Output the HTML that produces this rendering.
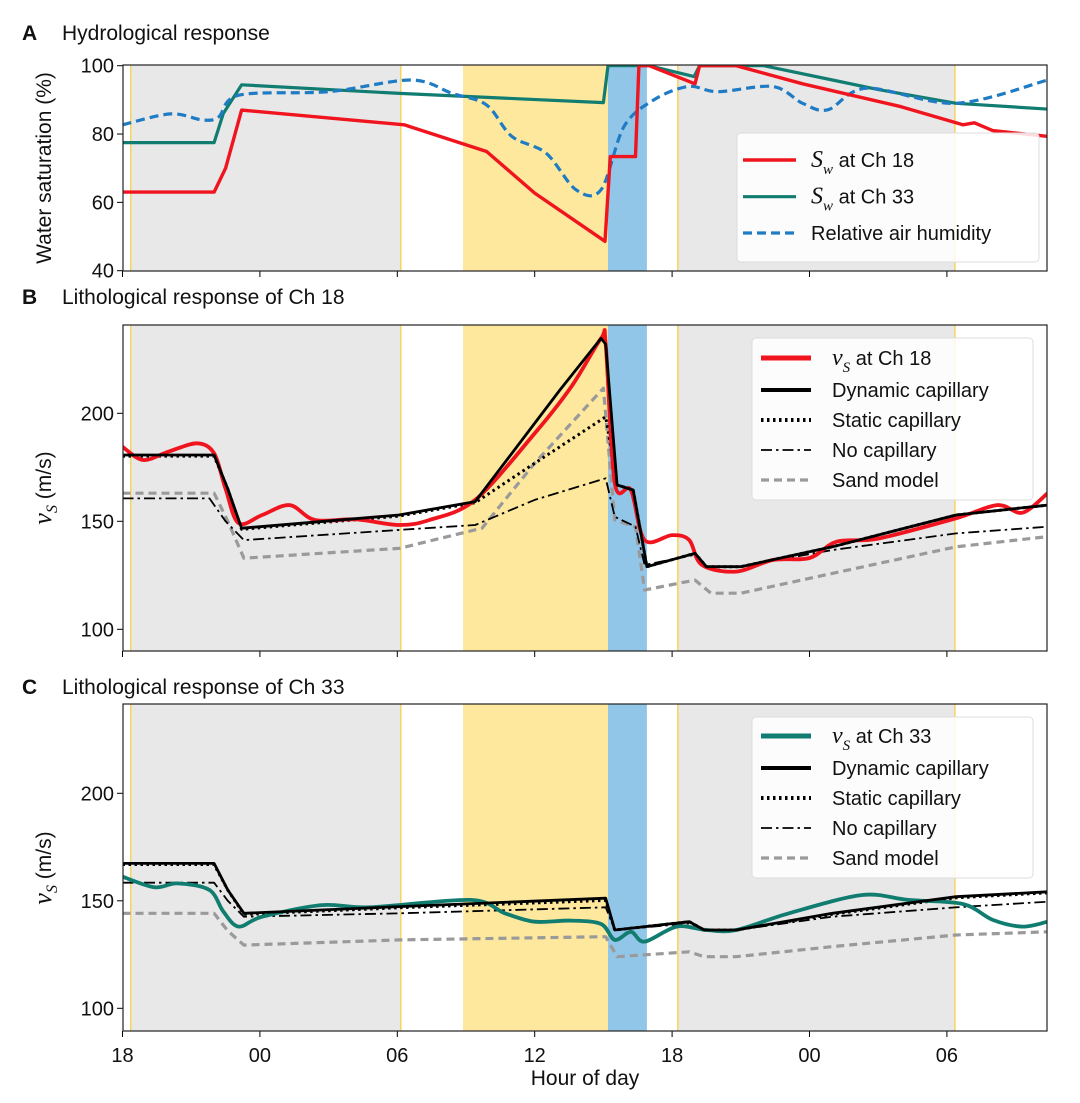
<!DOCTYPE html>
<html><head><meta charset="utf-8"><style>
body{margin:0;background:#fff;width:1080px;height:1103px;overflow:hidden}
svg{display:block;font-family:"Liberation Sans",sans-serif}
</style></head><body>
<svg id="fig" width="1080" height="1103" viewBox="0 0 1080 1103"></svg>
<script>
// ---- data (hours since 18:00, values) ----
const xTickHours=[0,6,12,18,24,30,36];
const xTickLabels=["18","00","06","12","18","00","06"];
const nightSpans=[[0.36,12.15],[24.25,36.35]];
const sunSpan=[14.87,21.2];
const rainSpan=[21.2,22.9];
const markerHours=[0.36,12.15,24.25,36.35];
const ticksA=[40,60,80,100];
const ticksBC=[100,150,200];

const sw18=[[0,63],[4.0,63],[4.5,70],[5.2,87],[12.3,82.7],[15.9,74.9],[18,62.7],[21.07,48.6],[21.3,73.4],[22.4,73.4],[22.55,100],[23,100],[25.0,94.7],[25.2,100],[26.8,100],[29.7,94.7],[34,88],[36.7,82.7],[37.2,83.3],[38,81],[40.4,79.3]];
const sw33=[[0,77.5],[4.0,77.5],[4.4,86],[5.2,94.4],[12.1,91.9],[21.0,89.2],[21.2,100],[23,100],[24.96,96.8],[25.2,100],[28,100],[31,95.8],[33,93],[36.4,89],[40.4,87.3]];
const humidity=[[0,82.7],[2.1,85.9],[3.5,84.1],[4.2,85],[5.1,91.4],[9,92.4],[12.6,95.8],[14.4,91.9],[15.9,88.5],[17,79.3],[18.5,74.4],[19.8,63.7],[20.9,63.7],[21.9,82.2],[23.2,90],[24.7,93.9],[26,92.4],[28.4,93.9],[29.7,89],[30.8,87.1],[32.5,93.4],[36.4,89],[40.4,95.8]];

const vs18=[[0,184.5],[0.9,178.4],[2,182.2],[3.25,186.1],[4,181.5],[4.5,165],[5.07,149.1],[6.1,152.9],[7.3,157.5],[8.4,150.6],[10.2,150.9],[12.07,148.3],[13.4,150.6],[15.4,159.9],[18,190.7],[19.6,212.3],[20.9,234.7],[21.1,232],[21.5,167.6],[22.2,164.5],[22.8,141.3],[24,143.6],[24.75,141.3],[25.3,129.8],[26.8,126.7],[28.4,132.1],[30,133],[31.2,140.6],[33,142],[36.4,151.4],[38.2,157.5],[39.3,154],[40.4,163]];
const dyn18=[[0,180.7],[4,180.7],[4.6,165],[5.2,146.8],[12.07,152.9],[15.4,159.1],[19.1,210.8],[20.9,234.7],[21.1,232],[21.6,166.8],[22.3,164.5],[22.9,129],[25,135.2],[25.5,129],[27,129],[31,138.2],[36.4,152.9],[40.4,157.5]];
const stat18=[[0,180.2],[4,180.2],[4.6,165],[5.2,146.3],[12.07,152.4],[15.4,158.6],[18,176.9],[21.1,198.4],[21.6,166.8],[22.3,164.5],[22.9,129],[25,135.2],[25.5,129],[27,129],[31,138.2],[36.4,152.9],[40.4,157.5]];
const nocap18=[[0,160.6],[3.8,160.6],[4.5,150],[5.3,141.3],[12.1,146],[15.4,148.3],[18,159.9],[21.1,169.9],[21.5,152.1],[22.4,147.5],[22.8,129.8],[25,134.5],[25.5,129],[27,129],[31,136.7],[36.4,144.4],[40.4,147.5]];
const sand18=[[0,163],[4,163],[4.6,150],[5.3,132.9],[12.1,137.5],[15.7,146.8],[18,176.9],[21,211.6],[21.5,150.6],[22.4,147.5],[22.8,118.2],[25,122.8],[25.7,116.7],[27,116.7],[31,125.9],[36.4,138.2],[40.4,142.9]];

const vs33=[[0,161.2],[1.4,156.3],[2.4,158.1],[3.8,155],[4.4,145],[5.07,138],[6.1,142.6],[8.7,148],[10.8,147],[15.2,150.4],[16.7,144.2],[18,140.3],[19.6,140.8],[20.9,139.2],[21.5,131.8],[22.2,135.6],[22.8,131],[24.2,138],[25.5,136.4],[26.8,136.4],[29.1,144.2],[32.3,152.7],[34.3,150.4],[36.7,148.5],[38,141.1],[39.3,138],[40.4,140.3]];
const dyn33=[[0,167.4],[4,167.4],[4.6,155],[5.3,144.2],[12.1,147.3],[21.1,151.2],[21.5,136.4],[24.75,140.3],[25.4,136.4],[26.8,136.4],[31,144.2],[36.4,151.9],[40.4,154.2]];
const stat33=[[0,166.9],[4,166.9],[4.6,155],[5.3,143.7],[12.1,146.8],[21.1,150.2],[21.5,136.4],[24.75,140.3],[25.4,136.4],[26.8,136.4],[31,143.7],[36.4,151.4],[40.4,153.7]];
const nocap33=[[0,158.4],[4,158.4],[4.6,150],[5.3,142.6],[12.1,144.2],[21.1,147],[21.5,136.4],[24.75,139.5],[25.4,136.4],[26.8,136.4],[31,142.6],[36.4,147],[40.4,149.6]];
const sand33=[[0,144.2],[4,144.2],[4.6,136],[5.3,129.4],[12.1,131.8],[21.1,133.3],[21.6,124],[24.75,126.3],[25.4,124],[26.8,124],[31,128.7],[36.4,134.1],[40.4,135.6]];

// ---- layout ----
const NS="http://www.w3.org/2000/svg";
const svg=document.getElementById('fig');
const X0=122.5,PX_H=22.9,LEFT=123,RIGHT=1047;
function xs(t){return X0+t*PX_H;}
function mk(tag,attrs,parent){const e=document.createElementNS(NS,tag);for(const k in attrs)e.setAttribute(k,attrs[k]);(parent||svg).appendChild(e);return e;}
const panels=[
 {id:'a',top:65,bot:271,v1:100,y1:65.7,v0:40,y0:270.7,ticks:ticksA},
 {id:'b',top:325,bot:651,v1:200,y1:413.3,v0:100,y0:629.3,ticks:ticksBC},
 {id:'c',top:704,bot:1031,v1:200,y1:793.3,v0:100,y0:1008.3,ticks:ticksBC}
];
function ysf(p){return v=>p.y0+(v-p.v0)*(p.y1-p.y0)/(p.v1-p.v0);}

function drawPanel(p){
  const g=mk('g',{});
  
  
  const cp=mk('clipPath',{id:'clip-'+p.id},g);
  mk('rect',{x:LEFT,y:p.top,width:RIGHT-LEFT,height:p.bot-p.top},cp);
  nightSpans.forEach((s,i)=>{const r=mk('rect',{x:xs(s[0]),y:p.top,width:xs(s[1])-xs(s[0]),height:p.bot-p.top,fill:'#e8e8e8'},g);
    });
  const sy=mk('rect',{x:xs(sunSpan[0]),y:p.top,width:xs(sunSpan[1])-xs(sunSpan[0]),height:p.bot-p.top,fill:'#fde89e'},g);
  
  const rb=mk('rect',{x:xs(rainSpan[0]),y:p.top,width:xs(rainSpan[1])-xs(rainSpan[0]),height:p.bot-p.top,fill:'#92c6e8'},g);
  
  markerHours.forEach(h=>{const l=mk('line',{x1:xs(h),x2:xs(h),y1:p.top,y2:p.bot,stroke:'#f6d460','stroke-width':1.5},g);
    });
  const sy2=ysf(p);
  p.ticks.forEach(v=>{const y=sy2(v);mk('line',{x1:LEFT-6,x2:LEFT,y1:y,y2:y,stroke:'#000','stroke-width':1},g);
    const t=mk('text',{x:LEFT-9,y:y+7,'text-anchor':'end','font-size':20,fill:'#111'},g);t.textContent=v;
    });
  xTickHours.forEach((h,i)=>{mk('line',{x1:xs(h),x2:xs(h),y1:p.bot,y2:p.bot+6,stroke:'#000','stroke-width':1},g);
    if(p.id==='c'){const t=mk('text',{x:xs(h),y:p.bot+31,'text-anchor':'middle','font-size':20,fill:'#111'},g);t.textContent=xTickLabels[i];
      }});
  p.g=g;p.sy=sy2;
  return g;
}
function pathD(pts,smooth){
  if(!smooth) return pts.map((q,i)=>(i?'L':'M')+q[0].toFixed(1)+','+q[1].toFixed(1)).join('');
  let d='M'+pts[0][0].toFixed(1)+','+pts[0][1].toFixed(1);
  for(let i=0;i<pts.length-1;i++){
    const p0=pts[i-1]||pts[i],p1=pts[i],p2=pts[i+1],p3=pts[i+2]||p2;
    const k=0.16;
    const c1=[p1[0]+(p2[0]-p0[0])*k,p1[1]+(p2[1]-p0[1])*k];
    const c2=[p2[0]-(p3[0]-p1[0])*k,p2[1]-(p3[1]-p1[1])*k];
    d+='C'+c1[0].toFixed(1)+','+c1[1].toFixed(1)+' '+c2[0].toFixed(1)+','+c2[1].toFixed(1)+' '+p2[0].toFixed(1)+','+p2[1].toFixed(1);
  }
  return d;
}
function series(p,data,style,name,smooth){
  const sy=p.sy;
  const pts=data.map(pt=>[xs(pt[0]),sy(pt[1])]);
  const a=Object.assign({d:pathD(pts,smooth),fill:'none','stroke-linejoin':'round','clip-path':'url(#clip-'+p.id+')'},style);
  const e=mk('path',a,p.g);
  
  
}
function frame(p){const r=mk('rect',{x:LEFT,y:p.top,width:RIGHT-LEFT,height:p.bot-p.top,fill:'none',stroke:'#222','stroke-width':1.2},p.g);
  }

const RED={stroke:'#f0141e','stroke-width':3.4};
const TEAL={stroke:'#117c70','stroke-width':3.2};
const BLUE={stroke:'#1f7cc4','stroke-width':3.2,'stroke-dasharray':'9,5'};
const DYN={stroke:'#000','stroke-width':2.8};
const STAT={stroke:'#000','stroke-width':3,'stroke-dasharray':'2.5,3.5'};
const NOC={stroke:'#000','stroke-width':1.8,'stroke-dasharray':'11,4,2.5,4'};
const SAND={stroke:'#9a9a9a','stroke-width':3.2,'stroke-dasharray':'8,5'};

const [pa,pb,pc]=panels;
drawPanel(pa);
series(pa,sw33,TEAL,'sw-ch33-line');
series(pa,humidity,BLUE,'humidity-line',true);
series(pa,sw18,RED,'sw-ch18-line');
frame(pa);
drawPanel(pb);
series(pb,sand18,SAND,'sand-model-line');
series(pb,nocap18,NOC,'no-capillary-line');
series(pb,stat18,STAT,'static-capillary-line');
series(pb,vs18,Object.assign({},RED,{'stroke-width':3.8}),'vs-ch18-line',true);
series(pb,dyn18,DYN,'dynamic-capillary-line');
frame(pb);
drawPanel(pc);
series(pc,sand33,SAND,'sand-model-line');
series(pc,nocap33,NOC,'no-capillary-line');
series(pc,stat33,STAT,'static-capillary-line');
series(pc,vs33,Object.assign({},TEAL,{'stroke-width':3.8}),'vs-ch33-line',true);
series(pc,dyn33,DYN,'dynamic-capillary-line');
frame(pc);

// legends
function legend(x,y,w,h,rows,lx1,lx2,tx,name){
  const g=mk('g',{});
  
  
  mk('rect',{x:x,y:y,width:w,height:h,rx:4,fill:'#fff','fill-opacity':0.85,stroke:'#ddd'},g);
  rows.forEach(r=>{
    const l=mk('line',Object.assign({x1:lx1,x2:lx2,y1:r.y,y2:r.y},r.style),g);
    
    const t=mk('text',{x:tx,y:r.y+7,'font-size':20,fill:'#111'},g);
    
    t.innerHTML=r.html;
  });
}
const SYM=(s,sub)=>'<tspan font-family="Liberation Serif,serif" font-style="italic" font-size="24">'+s+'</tspan><tspan font-family="Liberation Serif,serif" font-style="italic" font-size="15" dy="7">'+sub+'</tspan><tspan dy="-7"> at ';
legend(737,133,302,129,[
 {y:160,style:RED,html:SYM('S','w')+'Ch 18</tspan>'},
 {y:196.7,style:TEAL,html:SYM('S','w')+'Ch 33</tspan>'},
 {y:233,style:BLUE,html:'Relative air humidity'}],743,796,811,'legend-a');
const legRows=(y0,main,lab)=>[
 {y:y0,style:Object.assign({},main,{'stroke-width':5}),html:SYM('v','S')+lab+'</tspan>'},
 {y:y0+32,style:Object.assign({},DYN,{'stroke-width':4}),html:'Dynamic capillary'},
 {y:y0+62,style:Object.assign({},STAT,{'stroke-width':4}),html:'Static capillary'},
 {y:y0+92,style:NOC,html:'No capillary'},
 {y:y0+122,style:SAND,html:'Sand model'}];
legend(752,338,281,162,legRows(358,RED,'Ch 18'),761,811,832,'legend-b');
legend(752,717,281,161,legRows(736,TEAL,'Ch 33'),761,811,832,'legend-c');

// titles and labels
function txt(x,y,s,attrs,name){const t=mk('text',Object.assign({x:x,y:y,fill:'#111'},attrs));t.innerHTML=s;
  return t;}
txt(22,40,'A',{'font-size':21,'font-weight':'bold'},'panel-a-letter');
txt(62,40,'Hydrological response',{'font-size':21},'panel-a-title');
txt(22,304,'B',{'font-size':21,'font-weight':'bold'},'panel-b-letter');
txt(62,304,'Lithological response of Ch 18',{'font-size':21},'panel-b-title');
txt(22,694,'C',{'font-size':21,'font-weight':'bold'},'panel-c-letter');
txt(62,694,'Lithological response of Ch 33',{'font-size':21},'panel-c-title');
txt(585,1085,'Hour of day',{'font-size':21,'text-anchor':'middle'},'x-axis-title');
txt(0,0,'Water saturation (%)',{'font-size':21,'text-anchor':'middle',transform:'translate(51,168) rotate(-90)'},'y-axis-title-a');
const vl='<tspan font-family="Liberation Serif,serif" font-style="italic" font-size="26">v</tspan><tspan font-family="Liberation Serif,serif" font-style="italic" font-size="16" dy="6">S</tspan><tspan dy="-6"> (m/s)</tspan>';
txt(0,0,vl,{'font-size':21,'text-anchor':'middle',transform:'translate(51,488) rotate(-90)'},'y-axis-title-b');
txt(0,0,vl,{'font-size':21,'text-anchor':'middle',transform:'translate(51,868) rotate(-90)'},'y-axis-title-c');
</script>
</body></html>
